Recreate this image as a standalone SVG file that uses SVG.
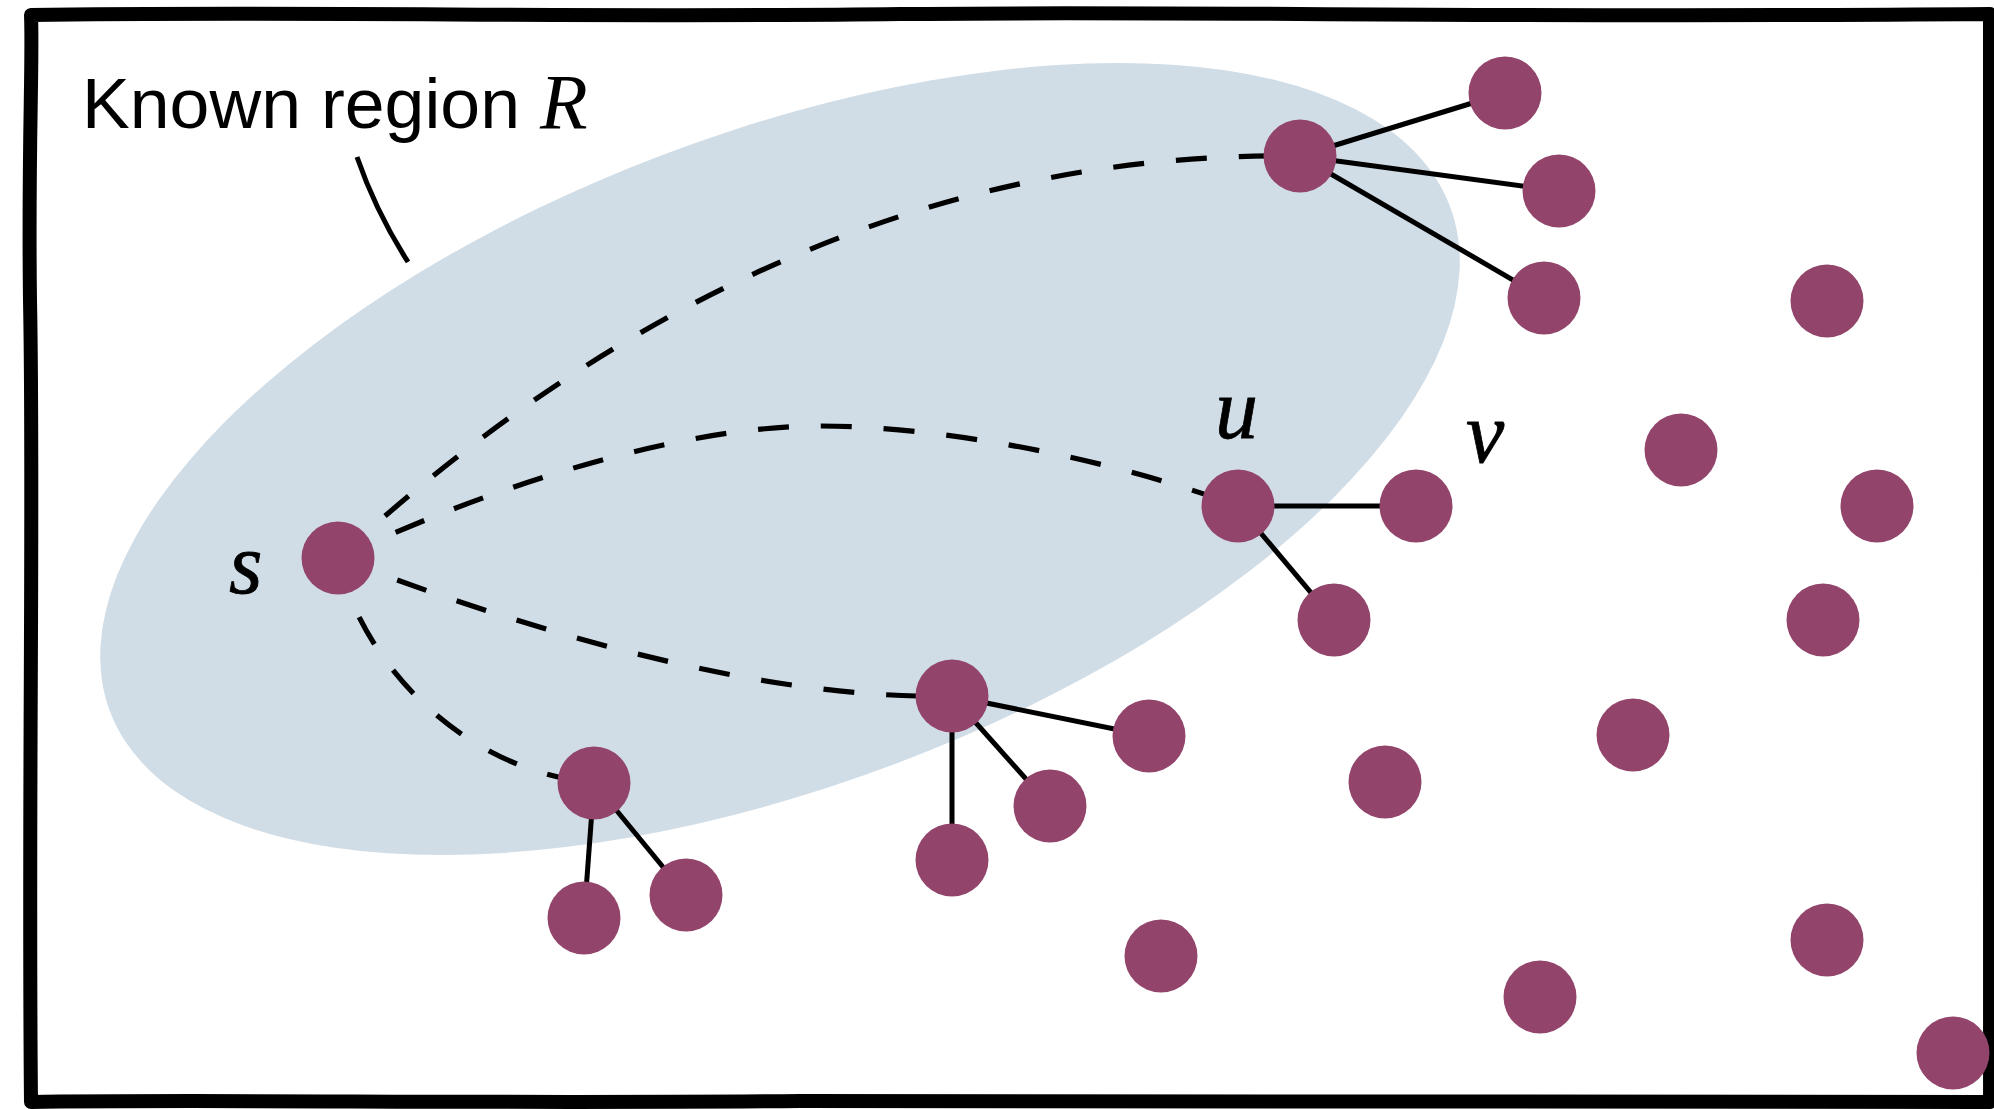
<svg xmlns="http://www.w3.org/2000/svg" width="1994" height="1109" viewBox="0 0 1994 1109">
<style>
.node{fill:#92446a}
.edge{stroke:#000;stroke-width:5;fill:none}
.path{stroke:#000;stroke-width:5.2;fill:none;stroke-dasharray:31 32}
.lab{font-family:"Liberation Serif",serif;font-style:italic;font-size:86px;fill:#000;stroke:#000;stroke-width:0.8}
.title{font-family:"Liberation Sans",Arial,sans-serif;font-size:71px;fill:#000}
.rvar{font-family:"Liberation Serif",serif;font-style:italic;font-size:78px;fill:#000}
</style>
<rect x="0" y="0" width="1994" height="1109" fill="#fff"/>
<ellipse id="region-R" cx="780" cy="459" rx="716" ry="326" transform="rotate(-20.65 780 459)" fill="#d1dde6"/>
<path id="frame" d="M31 15 C300 11 600 18 900 14 C1200 11 1500 18 1990 14 L1990 400 C1989 700 1991 900 1990 1102 C1600 1099 1200 1105 800 1101 C500 1104 200 1099 31 1102 C28 800 34 500 30 300 C28 150 33 60 31 15 Z" fill="none" stroke="#000" stroke-width="14" stroke-linejoin="round"/>
<g id="connectors">
<path class="edge" d="M357 157 Q376 212 408 262" stroke-width="3"/>
<path class="path" d="M338 558 C580 335 900 150 1300 156"/>
<path class="path" d="M338 558 C510 478 690 426 819 426 C950 426 1120 462 1238 506"/>
<path class="path" d="M338 558 C560 643 780 700 952 696"/>
<path class="path" d="M338 558 C360 660 460 770 594 783"/>
<line class="edge" x1="1300" y1="156" x2="1505" y2="93"/>
<line class="edge" x1="1300" y1="156" x2="1559" y2="191"/>
<line class="edge" x1="1300" y1="156" x2="1544" y2="298"/>
<line class="edge" x1="1238" y1="506" x2="1416" y2="506"/>
<line class="edge" x1="1238" y1="506" x2="1334" y2="620"/>
<line class="edge" x1="952" y1="696" x2="1149" y2="736"/>
<line class="edge" x1="952" y1="696" x2="1050" y2="806"/>
<line class="edge" x1="952" y1="696" x2="952" y2="860"/>
<line class="edge" x1="594" y1="783" x2="584" y2="918"/>
<line class="edge" x1="594" y1="783" x2="686" y2="895"/>
</g>
<g id="nodes">
<g id="n-s"><circle class="node" cx="338" cy="558" r="36.5"/></g>
<g id="n-top"><circle class="node" cx="1300" cy="156" r="36.5"/></g>
<g id="n-top-a"><circle class="node" cx="1505" cy="93" r="36.5"/></g>
<g id="n-top-b"><circle class="node" cx="1559" cy="191" r="36.5"/></g>
<g id="n-top-c"><circle class="node" cx="1544" cy="298" r="36.5"/></g>
<g id="n-u"><circle class="node" cx="1238" cy="506" r="36.5"/></g>
<g id="n-v"><circle class="node" cx="1416" cy="506" r="36.5"/></g>
<g id="n-u-b"><circle class="node" cx="1334" cy="620" r="36.5"/></g>
<g id="n-mid"><circle class="node" cx="952" cy="696" r="36.5"/></g>
<g id="n-mid-a"><circle class="node" cx="1149" cy="736" r="36.5"/></g>
<g id="n-mid-b"><circle class="node" cx="1050" cy="806" r="36.5"/></g>
<g id="n-mid-c"><circle class="node" cx="952" cy="860" r="36.5"/></g>
<g id="n-low"><circle class="node" cx="594" cy="783" r="36.5"/></g>
<g id="n-low-a"><circle class="node" cx="584" cy="918" r="36.5"/></g>
<g id="n-low-b"><circle class="node" cx="686" cy="895" r="36.5"/></g>
<g id="n-f1"><circle class="node" cx="1827" cy="301" r="36.5"/></g>
<g id="n-f2"><circle class="node" cx="1681" cy="450" r="36.5"/></g>
<g id="n-f3"><circle class="node" cx="1877" cy="506" r="36.5"/></g>
<g id="n-f4"><circle class="node" cx="1823" cy="620" r="36.5"/></g>
<g id="n-f5"><circle class="node" cx="1633" cy="735" r="36.5"/></g>
<g id="n-f6"><circle class="node" cx="1385" cy="782" r="36.5"/></g>
<g id="n-f7"><circle class="node" cx="1161" cy="956" r="36.5"/></g>
<g id="n-f8"><circle class="node" cx="1540" cy="997" r="36.5"/></g>
<g id="n-f9"><circle class="node" cx="1827" cy="940" r="36.5"/></g>
<g id="n-f10"><circle class="node" cx="1953" cy="1053" r="36.5"/></g>
</g>
<g id="labels">
<text class="title" x="82" y="128" textLength="438" lengthAdjust="spacingAndGlyphs">Known region</text>
<text class="rvar" x="540" y="128">R</text>
<text class="lab" x="229" y="593">s</text>
<text class="lab" x="1215" y="438">u</text>
<text class="lab" x="1466" y="462">v</text>
</g>
</svg>
